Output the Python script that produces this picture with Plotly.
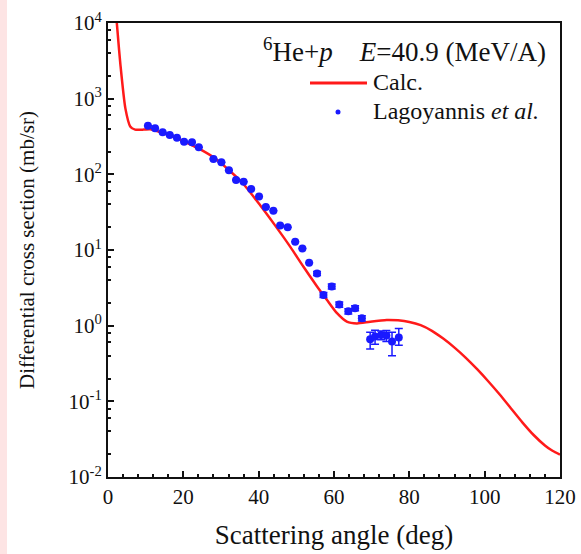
import plotly.graph_objects as go

# Experimental data (Lagoyannis et al.)
exp_angle = [10.6, 12.5, 14.5, 16.4, 18.3, 20.2, 22.3, 24.1, 28.0, 30.1, 32.1, 34.0,
             36.0, 38.0, 40.1, 41.9, 43.9, 45.7, 47.7, 49.7, 51.6, 53.4, 55.5, 57.2,
             59.4, 61.4, 63.8, 65.6, 67.4, 69.6, 70.9, 72.5, 73.9, 75.4, 77.2]
exp_xs = [440, 405, 360, 330, 305, 270, 265, 228, 160, 144, 113, 84,
          80, 64, 51, 37, 33, 21, 20, 12.9, 10.5, 6.8, 4.9, 2.55,
          3.3, 1.9, 1.55, 1.7, 1.25, 0.66, 0.72, 0.75, 0.74, 0.62, 0.70]
exp_err_up = [0, 0, 0, 0, 0, 0, 0, 0, 0, 0, 0, 0,
              0, 0, 0, 0, 0, 0, 0, 0, 0, 0, 0.3, 0.2,
              0.25, 0.15, 0.12, 0.13, 0.1, 0.16, 0.15, 0.1, 0.12, 0.2, 0.22]
exp_err_dn = [0, 0, 0, 0, 0, 0, 0, 0, 0, 0, 0, 0,
              0, 0, 0, 0, 0, 0, 0, 0, 0, 0, 0.3, 0.2,
              0.25, 0.15, 0.12, 0.13, 0.1, 0.17, 0.15, 0.1, 0.12, 0.22, 0.15]

# Calculated curve
calc_angle = [2.0, 2.6, 3.3, 4.6, 5.9, 7.2, 9.5, 11.2, 14, 17, 20, 24, 28, 32, 36,
              40.4, 44.4, 48.4, 51.9, 55.5, 58.1, 60.8, 63.4, 66.1, 69.6, 74.0,
              77, 80, 83, 86, 89, 92, 95, 98, 101, 104, 107, 110, 113, 116, 118, 120]
calc_xs = [16000, 7000, 2800, 750, 430, 390, 390, 395, 360, 320, 275, 220, 168, 115, 74,
           39, 21, 11, 6.0, 3.3, 2.2, 1.46, 1.13, 1.07, 1.13, 1.19,
           1.175, 1.12, 1.016, 0.855, 0.676, 0.513, 0.376, 0.266, 0.183, 0.123, 0.0805,
           0.0528, 0.0359, 0.0261, 0.0222, 0.0198]

y_tick_vals = [1e-2, 1e-1, 1, 10, 100, 1000, 10000]
y_tick_text = ["10<sup>-2</sup>", "10<sup>-1</sup>", "10<sup>0</sup>", "10<sup>1</sup>",
               "10<sup>2</sup>", "10<sup>3</sup>", "10<sup>4</sup>"]
y_minor_vals = [m * 10 ** e for e in range(-2, 4) for m in (2, 4, 6, 8)]

FONT = "Liberation Serif"
L, R, T, B = 108, 21, 23, 77
W, H = 581, 554
PW, PH = W - L - R, H - T - B


def px(x):
    return (x - L) / PW


def py(y):
    return (H - B - y) / PH


fig = go.Figure()
fig.add_trace(go.Scatter(
    x=calc_angle, y=calc_xs, mode="lines", name="Calc.",
    line=dict(color="#ff1a1a", width=2.5, shape="spline", smoothing=0.6),
    showlegend=False, cliponaxis=True))
fig.add_trace(go.Scatter(
    x=exp_angle, y=exp_xs, mode="markers", name="Lagoyannis et al.",
    marker=dict(color="#1a1aff", size=8),
    error_y=dict(type="data", symmetric=False, array=exp_err_up, arrayminus=exp_err_dn,
                 color="#1a1aff", thickness=1.5, width=4),
    showlegend=False))

# legend (drawn manually)
fig.add_shape(type="line", xref="paper", yref="paper",
              x0=px(310), x1=px(367), y0=py(83), y1=py(83),
              line=dict(color="#ff1a1a", width=3))
fig.add_shape(type="circle", xref="paper", yref="paper",
              x0=px(335.5), x1=px(340.5), y0=py(114.5), y1=py(109.5),
              fillcolor="#1a1aff", line=dict(color="#1a1aff", width=0))
# left pink strip
fig.add_shape(type="rect", xref="paper", yref="paper",
              x0=px(0), x1=px(7), y0=py(H), y1=py(0),
              fillcolor="#fde4e4", line=dict(width=0), layer="below")

fig.add_annotation(xref="paper", yref="paper", x=px(548), y=py(50),
                   xanchor="right", yanchor="middle", showarrow=False,
                   text="<sup>6</sup>He+<i>p</i>&nbsp;&nbsp;&nbsp;&nbsp;<i>E</i>=40.9 (MeV/A)",
                   font=dict(family=FONT, size=27, color="#111"))
fig.add_annotation(xref="paper", yref="paper", x=px(371), y=py(82),
                   xanchor="left", yanchor="middle", showarrow=False,
                   text="Calc.", font=dict(family=FONT, size=24, color="#111"))
fig.add_annotation(xref="paper", yref="paper", x=px(371), y=py(111),
                   xanchor="left", yanchor="middle", showarrow=False,
                   text="Lagoyannis <i>et al.</i>", font=dict(family=FONT, size=24, color="#111"))

fig.update_layout(
    width=W, height=H,
    margin=dict(l=L, r=R, t=T, b=B, autoexpand=False),
    paper_bgcolor="white", plot_bgcolor="white",
    font=dict(family=FONT, size=21, color="#111"),
    showlegend=False,
    xaxis=dict(
        range=[0, 120], dtick=20, tick0=0, automargin=False,
        ticks="inside", ticklen=6, tickwidth=1.5, tickcolor="#111",
        minor=dict(dtick=4, ticks="inside", ticklen=3, tickcolor="#111", showgrid=False),
        showline=True, linecolor="#111", linewidth=2, mirror=True,
        showgrid=False, zeroline=False,
        tickfont=dict(family=FONT, size=21, color="#111"),
        title=dict(text="Scattering angle (deg)", font=dict(family=FONT, size=27, color="#111"),
                   standoff=17),
    ),
    yaxis=dict(
        type="log", range=[-2, 4], automargin=False,
        tickmode="array", tickvals=y_tick_vals, ticktext=y_tick_text,
        ticks="inside", ticklen=6, tickwidth=1.5, tickcolor="#111",
        minor=dict(tickmode="array", tickvals=y_minor_vals, ticks="inside", ticklen=3,
                   tickcolor="#111", showgrid=False),
        showline=True, linecolor="#111", linewidth=2, mirror=True,
        showgrid=False, zeroline=False,
        tickfont=dict(family=FONT, size=21, color="#111"),
        title=dict(text="Differential cross section (mb/sr)",
                   font=dict(family=FONT, size=21, color="#111"), standoff=28),
    ),
)

fig.write_html("out.html", config={"displayModeBar": False},
               post_script="document.body.style.margin='0';document.body.style.padding='0';")
